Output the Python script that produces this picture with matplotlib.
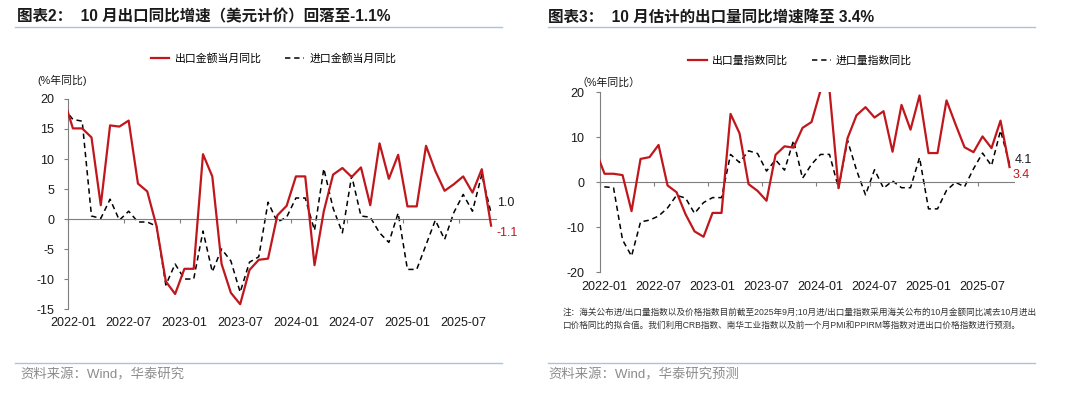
import matplotlib

matplotlib.use("Agg")
import matplotlib.pyplot as plt
from matplotlib.lines import Line2D
import numpy as np

plt.rcParams["font.family"] = ["Liberation Sans", "Noto Sans CJK SC"]
plt.rcParams["axes.unicode_minus"] = False

RED = "#C0171D"
AXIS = "#7F7F7F"
RULE = "#A9C3E3"

# monthly, 2021-12 .. 2025-10 (the first month only sets where the line enters the axis)
month_idx = np.arange(-1, 46)
tick_idx = np.arange(0, 43, 6)
tick_labels = ["2022-01", "2022-07", "2023-01", "2023-07",
               "2024-01", "2024-07", "2025-01", "2025-07"]

# chart 2: export / import value, yoy %
export_value_yoy = [20.1,
                    15.1, 15.1, 13.6, 2.3, 15.6, 15.4, 16.4, 5.9, 4.6, -1.2, -10.4, -12.5,
                    -8.3, -8.3, 10.8, 7.1, -7.5, -12.3, -14.2, -8.5, -6.8, -6.6, 0.6, 2.2,
                    7.1, 7.1, -7.7, 1.3, 7.4, 8.5, 7.0, 8.6, 2.3, 12.6, 6.7, 10.7,
                    2.1, 2.1, 12.2, 8.0, 4.7, 5.8, 7.1, 4.4, 8.3, -1.1]
import_value_yoy = [18.5,
                    16.6, 16.3, 0.5, 0.1, 3.3, -0.2, 1.3, -0.5, -0.5, -1.2, -11.0, -7.5,
                    -10.0, -10.0, -2.0, -8.8, -5.0, -7.0, -12.2, -7.2, -6.3, 2.8, -0.5, 0.3,
                    3.5, 3.5, -1.9, 8.4, 1.8, -2.3, 7.2, 0.5, 0.3, -2.3, -3.9, 1.0,
                    -8.4, -8.4, -4.3, -0.2, -3.4, 1.1, 4.1, 1.3, 7.4, 1.0]

# chart 3: export / import volume index, yoy %
export_volume_yoy = [7.1,
                     1.9, 1.9, 1.6, -6.4, 5.2, 5.6, 8.3, -0.7, -2.2, -7.1, -10.9, -12.1,
                     -6.8, -6.8, 15.2, 10.9, -0.4, -1.9, -4.1, 6.1, 8.0, 7.7, 12.1, 13.4,
                     20.4, 20.4, -1.3, 9.8, 14.9, 16.7, 14.4, 15.8, 6.8, 17.2, 11.7, 19.3,
                     6.5, 6.5, 18.2, 12.9, 7.8, 6.7, 10.2, 7.6, 13.7, 3.4]
import_volume_yoy = [-0.4,
                     -1.0, -1.2, -12.8, -16.4, -8.8, -8.4, -7.5, -5.7, -2.9, -3.5, -6.9, -4.5,
                     -3.4, -3.4, 6.2, 4.4, 7.0, 6.4, 2.5, 5.0, 2.7, 9.3, 0.9, 4.0,
                     6.2, 6.2, -1.3, 9.3, 2.7, -2.8, 2.8, -1.3, 0.3, -1.2, -1.2, 5.5,
                     -5.9, -5.9, -1.8, 0.0, -1.0, 3.0, 6.5, 3.7, 11.5, 4.1]


def style_axis(ax, ylim, yticks, ypad):
    ax.set_xlim(0, 46)
    ax.set_ylim(*ylim)
    ax.set_yticks(yticks)
    for s in ("top", "right"):
        ax.spines[s].set_visible(False)
    ax.spines["left"].set_color(AXIS)
    ax.spines["bottom"].set_position(("data", 0))
    ax.spines["bottom"].set_color(AXIS)
    ax.set_xticks(tick_idx)
    ax.tick_params(axis="x", length=3, color=AXIS, labelbottom=False)
    ax.tick_params(axis="y", length=3, color=AXIS, labelsize=9, pad=ypad,
                   labelcolor="#1a1a1a")
    sec = ax.secondary_xaxis("bottom")
    sec.spines["bottom"].set_visible(False)
    sec.set_xticks(tick_idx + 0.5, tick_labels)
    sec.tick_params(length=0, labelsize=9, pad=6, labelcolor="#1a1a1a")


def draw_pair(ax, solid, dashed, solid_label, dashed_label):
    x = month_idx + 0.5
    h2, = ax.plot(x, dashed, color="black", lw=1.1, ls=(0, (3.5, 2.5)),
                  label=dashed_label, zorder=2)
    h1, = ax.plot(x, solid, color=RED, lw=1.6, label=solid_label, zorder=3)
    return [h1, h2]


fig = plt.figure(figsize=(10.8, 3.93), dpi=100)

# ---- left: value
ax1 = fig.add_axes([0.0632, 0.2137, 0.3958, 0.5344])
style_axis(ax1, (-15, 20), np.arange(-15, 21, 5), 7)
hs = draw_pair(ax1, export_value_yoy, import_value_yoy, "出口金额当月同比", "进口金额当月同比")
ax1.legend(handles=hs, loc="center", bbox_to_anchor=(0.2532, 0.852),
           bbox_transform=fig.transFigure, ncol=2, frameon=False, fontsize=7.8,
           handlelength=1.7, handletextpad=0.5, columnspacing=2.2)
ax1.annotate(f"{import_value_yoy[-1]:.1f}", xy=(month_idx[-1] + 0.5, import_value_yoy[-1]),
             xytext=(4, 7), textcoords="offset points", va="center", fontsize=9,
             color="#1a1a1a", annotation_clip=False)
ax1.annotate(f"{export_value_yoy[-1]:.1f}", xy=(month_idx[-1] + 0.5, export_value_yoy[-1]),
             xytext=(4, -5.5), textcoords="offset points", va="center", fontsize=9,
             color=RED, annotation_clip=False)
fig.text(0.035, 0.796, "(%年同比)", fontsize=7.8, va="center", color="#1a1a1a")

# ---- right: volume
ax2 = fig.add_axes([0.5556, 0.3071, 0.3833, 0.4580])
style_axis(ax2, (-20, 20), np.arange(-20, 21, 10), 8.5)
hs = draw_pair(ax2, export_volume_yoy, import_volume_yoy, "出口量指数同比", "进口量指数同比")
ax2.legend(handles=hs, loc="center", bbox_to_anchor=(0.741, 0.845),
           bbox_transform=fig.transFigure, ncol=2, frameon=False, fontsize=7.8,
           handlelength=1.7, handletextpad=0.5, columnspacing=2.2)
ax2.annotate(f"{import_volume_yoy[-1]:.1f}", xy=(month_idx[-1] + 0.5, import_volume_yoy[-1]),
             xytext=(4, 3), textcoords="offset points", va="center", fontsize=9,
             color="#1a1a1a", annotation_clip=False)
ax2.annotate(f"{export_volume_yoy[-1]:.1f}", xy=(month_idx[-1] + 0.5, export_volume_yoy[-1]),
             xytext=(2, -6), textcoords="offset points", va="center", fontsize=9,
             color=RED, annotation_clip=False)
fig.text(0.534, 0.789, "（%年同比）", fontsize=7.8, va="center", color="#1a1a1a")

# ---- titles, rules, notes, sources
fig.text(0.0157, 0.957, "图表2：  10 月出口同比增速（美元计价）回落至-1.1%",
         fontsize=11.2, fontweight="bold", va="center", color="#1a1a1a")
fig.text(0.5074, 0.957, "图表3：  10 月估计的出口量同比增速降至 3.4%",
         fontsize=11.2, fontweight="bold", va="center", color="#1a1a1a")
for x0, x1 in ((0.0139, 0.4648), (0.5074, 0.9583)):
    for y in (0.9313, 0.0763):
        fig.add_artist(Line2D([x0, x1], [y, y], transform=fig.transFigure,
                              color=RULE, lw=1.0))

fig.text(0.521, 0.206, "注：海关公布进/出口量指数以及价格指数目前截至2025年9月;10月进/出口量指数采用海关公布的10月金额同比减去10月进出",
         fontsize=6.2, va="center", color="#333333")
fig.text(0.521, 0.173, "口价格同比的拟合值。我们利用CRB指数、南华工业指数以及前一个月PMI和PPIRM等指数对进出口价格指数进行预测。",
         fontsize=6.2, va="center", color="#333333")

fig.text(0.0185, 0.046, "资料来源：Wind，华泰研究", fontsize=9.6, va="center", color="#8c8c8c")
fig.text(0.5074, 0.046, "资料来源：Wind，华泰研究预测", fontsize=9.6, va="center", color="#8c8c8c")

fig.savefig("out.png", dpi=100)
